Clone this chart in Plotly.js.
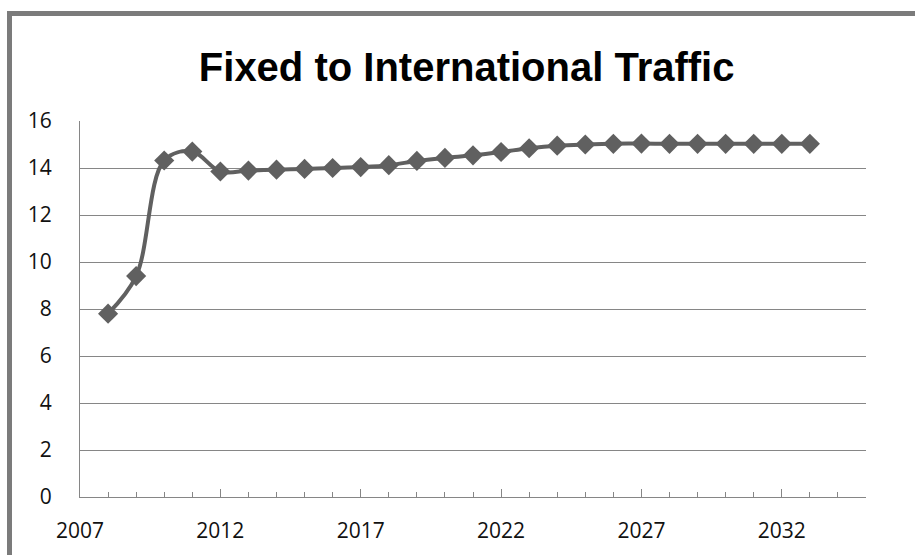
<!DOCTYPE html>
<html>
<head>
<meta charset="utf-8">
<script src="https://cdn.plot.ly/plotly-3.0.1.min.js"></script>
<style>
  html, body { margin: 0; padding: 0; background: #ffffff; }
  #wrap { position: relative; width: 915px; height: 555px; overflow: hidden; }
  #chart { position: absolute; left: 0; top: 0; width: 915px; height: 555px; }
  #frame { position: absolute; left: 7px; top: 11px; width: 960px; height: 600px;
           border-top: 5px solid #7b7b7b; border-left: 5px solid #7b7b7b; pointer-events: none; }
</style>
</head>
<body>
<div id="wrap">
  <div id="chart"></div>
  <div id="frame"></div>
</div>
<script>
const chartTitle = "Fixed to International Traffic";
const years = [2008, 2009, 2010, 2011, 2012, 2013, 2014, 2015, 2016, 2017, 2018, 2019, 2020,
               2021, 2022, 2023, 2024, 2025, 2026, 2027, 2028, 2029, 2030, 2031, 2032, 2033];
const traffic = [7.8, 9.4, 14.32, 14.7, 13.85, 13.89, 13.93, 13.96, 14.0, 14.04, 14.12, 14.3, 14.43,
                 14.54, 14.68, 14.84, 14.95, 15.0, 15.03, 15.04, 15.03, 15.03, 15.03, 15.03, 15.03, 15.03];
const yTickValues = [0, 2, 4, 6, 8, 10, 12, 14, 16];
const xTickValues = [2007, 2012, 2017, 2022, 2027, 2032];

const tickFont = { family: "Open Sans, sans-serif", size: 21, color: "#111111" };

const trace = {
  x: years,
  y: traffic,
  type: "scatter",
  mode: "lines+markers",
  line: { color: "#606060", width: 4, shape: "spline", smoothing: 1 },
  marker: { symbol: "diamond", size: 15.5, color: "#606060" },
  hoverinfo: "x+y"
};

const layout = {
  width: 915,
  height: 555,
  paper_bgcolor: "#ffffff",
  plot_bgcolor: "#ffffff",
  margin: { l: 80, r: 49, t: 121, b: 58 },
  showlegend: false,
  title: {
    text: "<b>" + chartTitle + "</b>",
    font: { family: "Liberation Sans Narrow, Arial Narrow, sans-serif", size: 40, color: "#000000" },
    xref: "container", x: 0.510, xanchor: "center",
    yref: "container", y: 0.880, yanchor: "middle"
  },
  xaxis: {
    range: [2007, 2035],
    tickvals: xTickValues,
    ticktext: xTickValues.map(String),
    ticks: "inside",
    ticklen: 8,
    tickwidth: 1,
    tickcolor: "#868686",
    minor: { dtick: 1, tick0: 2007, ticks: "inside", ticklen: 5, tickwidth: 1, tickcolor: "#868686", showgrid: false },
    showgrid: false,
    zeroline: false,
    showline: true,
    linecolor: "#868686",
    linewidth: 1,
    tickfont: tickFont,
    ticklabelstandoff: 15
  },
  yaxis: {
    range: [0, 16],
    tickvals: yTickValues,
    ticktext: yTickValues.map(String),
    ticks: "",
    showgrid: true,
    gridcolor: "#868686",
    gridwidth: 1,
    zeroline: false,
    showline: true,
    linecolor: "#868686",
    linewidth: 1,
    tickfont: tickFont,
    ticklabelstandoff: 23
  }
};

Plotly.newPlot("chart", [trace], layout, { displayModeBar: false, staticPlot: true });
</script>
</body>
</html>
